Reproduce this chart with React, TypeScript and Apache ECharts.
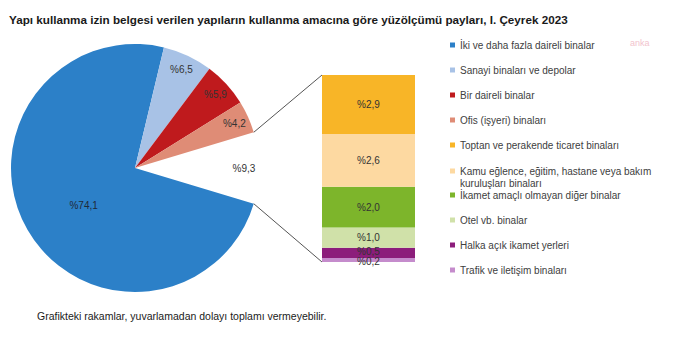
import React, { useEffect, useRef } from "react";
import * as echarts from "echarts";

const titleText =
  "Yapı kullanma izin belgesi verilen yapıların kullanma amacına göre yüzölçümü payları, I. Çeyrek 2023";
const footnoteText = "Grafikteki rakamlar, yuvarlamadan dolayı toplamı vermeyebilir.";

// Pie: the first slice is the exploded "other" group shown as a bar
const otherShare = 9.3;
const pieNames = [
  "İki ve daha fazla daireli binalar",
  "Sanayi binaları ve depolar",
  "Bir daireli binalar",
  "Ofis (işyeri) binaları",
];
const pieValues = [74.1, 6.5, 5.9, 4.2];
const pieColors = ["#2c80c8", "#a8c2e6", "#bf1a1d", "#df8c76"];

// Stacked bar, top to bottom
const barNames = [
  "Toptan ve perakende ticaret binaları",
  "Kamu eğlence, eğitim, hastane veya bakım kuruluşları binaları",
  "İkamet amaçlı olmayan diğer binalar",
  "Otel vb. binalar",
  "Halka açık ikamet yerleri",
  "Trafik ve iletişim binaları",
];
const barValues = [2.9, 2.6, 2.0, 1.0, 0.5, 0.2];
const barColors = ["#f8b527", "#fdd9a1", "#7db52b", "#d0e1a9", "#8c1d7b", "#c58ccc"];
const barLabelShift = [0, 0, 0, 0, -1.5, 1.5];

const FONT = "'Liberation Sans', Arial, sans-serif";
const fmt = (v: number) => "%" + v.toFixed(1).replace(".", ",");

export default function App() {
  const ref = useRef<HTMLDivElement>(null);
  useEffect(() => {
    if (!ref.current) return;
    const chart = echarts.init(ref.current, null, { renderer: "svg" });

    const cx = 135, cy = 168, R = 124;
    const gridLeft = 322, gridTop = 75, gridW = 93, gridH = 187;
    const pieTotal = otherShare + pieValues.reduce((a, b) => a + b, 0);
    const startAngle = ((otherShare / pieTotal) * 360) / 2;
    const barTotal = barValues.reduce((a, b) => a + b, 0);

    const pieData = [
      { name: "", value: otherShare, itemStyle: { color: "rgba(0,0,0,0)" } },
      ...pieValues.map((v, i) => ({ name: pieNames[i], value: v, itemStyle: { color: pieColors[i] } })),
    ];

    const stackOrder = barValues.map((_, i) => barValues.length - 1 - i); // bottom first

    const legendText = { fontFamily: FONT, fontSize: 10, color: "#404040" };
    const legendBase = {
      orient: "vertical",
      left: 450,
      padding: 0,
      itemWidth: 5,
      itemHeight: 5,
      itemGap: 15,
      icon: "rect",
      textStyle: legendText,
    };

    chart.setOption({
      animation: false,
      backgroundColor: "#ffffff",
      title: {
        text: titleText,
        left: 9,
        top: 13,
        padding: 0,
        textStyle: { fontFamily: FONT, fontSize: 11.7, fontWeight: "bold", color: "#1a1a1a" },
      },
      grid: { left: gridLeft, top: gridTop, width: gridW, height: gridH },
      xAxis: { type: "category", data: [""], show: false },
      yAxis: { type: "value", min: 0, max: barTotal, show: false },
      legend: [
        { ...legendBase, top: 40, data: [...pieNames, barNames[0]] },
        {
          ...legendBase,
          top: 165,
          itemHeight: 17,
          icon: "path://M0,0H5V5H0Z M0,17H0.01V16.99H0Z",
          textStyle: { ...legendText, lineHeight: 12 },
          formatter: () => "Kamu eğlence, eğitim, hastane veya bakım\nkuruluşları binaları",
          data: [barNames[1]],
        },
        { ...legendBase, top: 190, data: barNames.slice(2) },
      ],
      series: [
        {
          type: "pie",
          center: [cx, cy],
          radius: [0, R],
          startAngle,
          clockwise: true,
          avoidLabelOverlap: false,
          silent: true,
          label: {
            show: true,
            position: "inside",
            offset: [5, 5],
            fontFamily: FONT,
            fontSize: 10,
            color: "#1f2a38",
            formatter: (p: any) => (p.dataIndex === 1 ? fmt(p.value) : ""),
          },
          labelLine: { show: false },
          data: pieData,
        },
        {
          type: "pie",
          center: [cx, cy],
          radius: [88, R],
          startAngle,
          clockwise: true,
          avoidLabelOverlap: false,
          silent: true,
          itemStyle: { color: "rgba(0,0,0,0)" },
          label: {
            show: true,
            position: "inside",
            fontFamily: FONT,
            fontSize: 10,
            color: "#333333",
            formatter: (p: any) => (p.dataIndex === 1 ? "" : fmt(p.value)),
          },
          labelLine: { show: false },
          data: pieData.map((d) => ({ name: d.name + " ", value: d.value, itemStyle: { color: "rgba(0,0,0,0)" } })),
        },
        ...stackOrder.map((i) => ({
          type: "bar",
          name: barNames[i],
          stack: "other",
          barWidth: "100%",
          silent: true,
          itemStyle: { color: barColors[i] },
          label: {
            show: true,
            position: "inside",
            offset: [0, barLabelShift[i]],
            fontFamily: FONT,
            fontSize: 10,
            color: "#333333",
            formatter: (p: any) => fmt(p.value),
          },
          data: [barValues[i]],
        })),
      ],
    });

    const a = (startAngle * Math.PI) / 180;
    const topPie = [cx + R * Math.cos(a), cy - R * Math.sin(a)];
    const botPie = [cx + R * Math.cos(a), cy + R * Math.sin(a)];
    const barTopY = chart.convertToPixel({ gridIndex: 0 }, [0, barTotal])[1];
    const barBotY = chart.convertToPixel({ gridIndex: 0 }, [0, 0])[1];

    chart.setOption({
      graphic: [
        {
          type: "line",
          shape: { x1: topPie[0], y1: topPie[1], x2: gridLeft, y2: barTopY },
          style: { stroke: "#555555", lineWidth: 1 },
          silent: true,
        },
        {
          type: "line",
          shape: { x1: botPie[0], y1: botPie[1], x2: gridLeft, y2: barBotY },
          style: { stroke: "#555555", lineWidth: 1 },
          silent: true,
        },
        {
          type: "text",
          left: 37,
          top: 310,
          style: { text: footnoteText, font: `10.5px ${FONT}`, fill: "#1a1a1a" },
          silent: true,
        },
        {
          type: "text",
          left: 630,
          top: 38,
          style: { text: "anka", font: `9px ${FONT}`, fill: "#f2c3cd" },
          silent: true,
        },
      ],
    });

    return () => chart.dispose();
  }, []);
  return <div ref={ref} style={{ position: "fixed", left: 0, top: 0, width: 700, height: 356 }} />;
}
